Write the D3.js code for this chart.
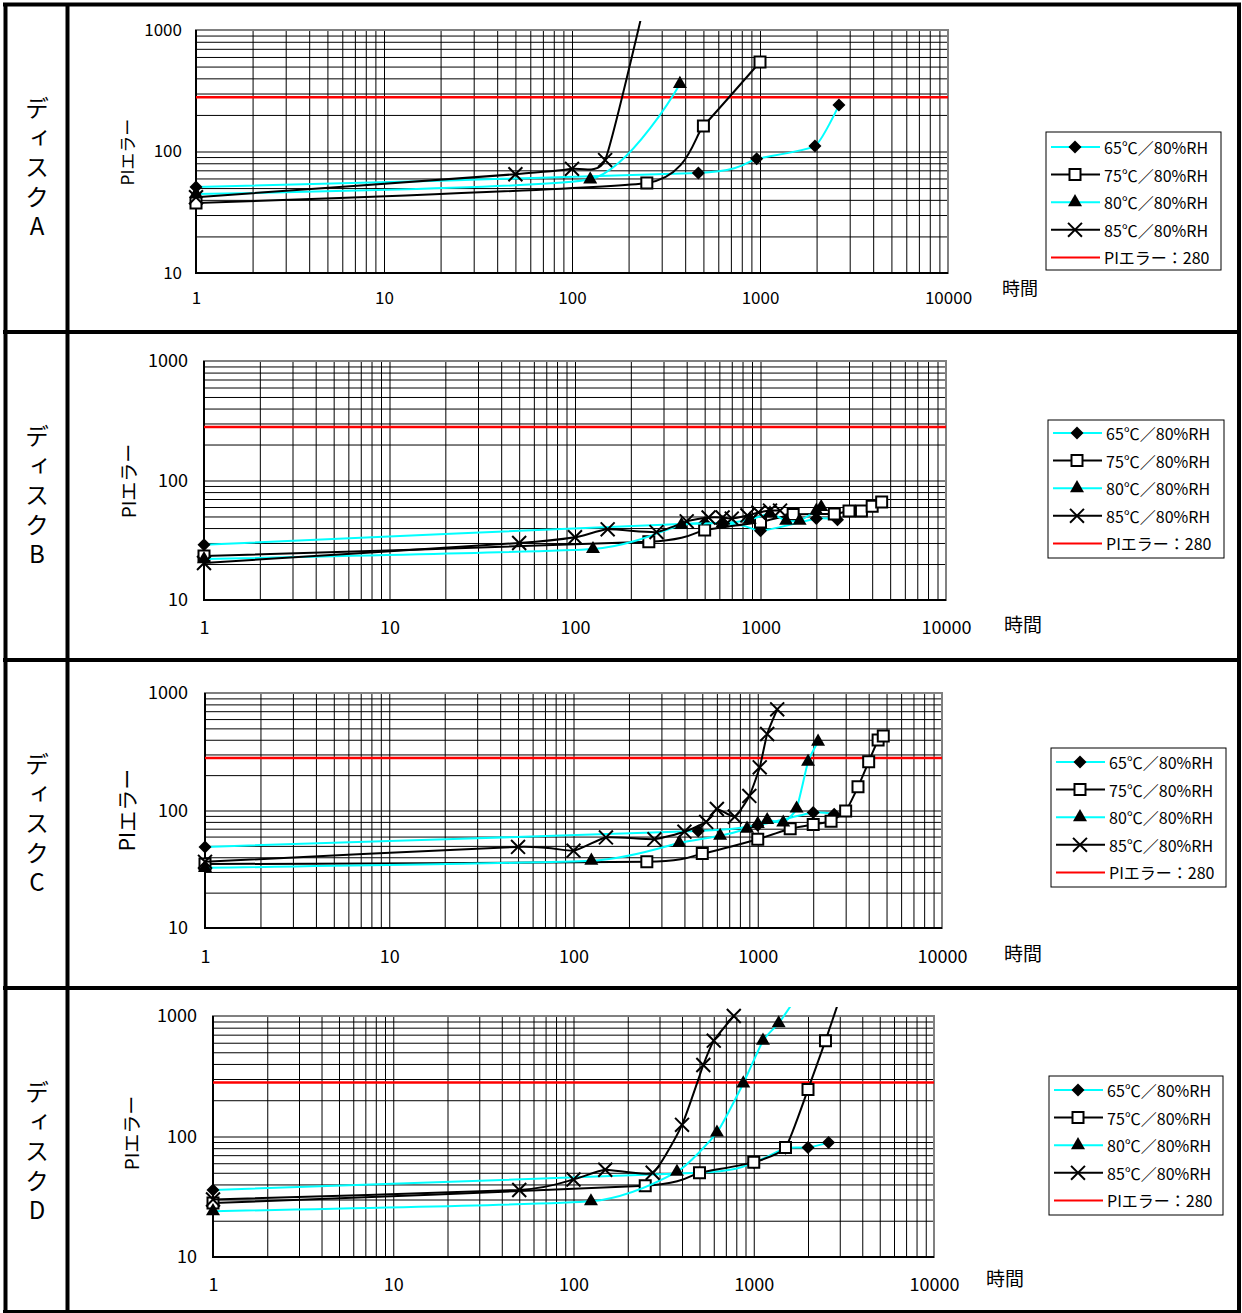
<!DOCTYPE html>
<html>
<head>
<meta charset="utf-8">
<script src="https://cdn.jsdelivr.net/npm/d3@7"></script>
<style>
  body { margin: 0; background: #fff; }
  svg text { font-family: "Noto Sans CJK JP", "Noto Sans", sans-serif; fill: #000; }
</style>
</head>
<body>
<svg id="chart" width="1242" height="1313"></svg>
<script>
// legend labels and axis labels
const seriesNames = ['65℃／80%RH', '75℃／80%RH', '80℃／80%RH', '85℃／80%RH'];
const limitName = 'PIエラー：280';
const limitValue = 280;
const xTickLabels = [1, 10, 100, 1000, 10000];
const yTickLabels = [10, 100, 1000];
const yTitle = 'PIエラー';
const xTitle = '時間';

// [hours, PI errors]
const discA65 = [[1, 51], [470, 66.5], [960, 87], [1960, 111], [2630, 241]];
const discA75 = [[1, 37.7], [250, 55], [500, 162], [1000, 545]];
const discA80 = [[1, 44.7], [125, 59], [375, 360]];
const discA85 = [[1, 42], [50, 65], [100, 72], [150, 85], [250, 2000]];

const discB65 = [[1, 29], [500, 44], [1000, 38], [2000, 48], [2600, 47]];
const discB75 = [[1, 23.3], [250, 30.7], [500, 38.5], [1000, 45], [1500, 52], [2500, 52.5], [3000, 55.5], [3500, 55.5], [4000, 61], [4500, 66]];
const discB80 = [[1, 22], [125, 26.7], [375, 42.5], [625, 44], [875, 47], [1125, 53], [1375, 46], [1625, 46], [2000, 56], [2125, 60]];
const discB85 = [[1, 20.4], [50, 30], [100, 33.5], [150, 39], [275, 37], [400, 45.5], [525, 49], [625, 49], [700, 48], [850, 51], [975, 54], [1125, 56], [1275, 56]];

const discC65 = [[1, 49], [475, 67], [1000, 75], [2000, 96], [2600, 93]];
const discC75 = [[1, 35], [250, 36.6], [500, 43], [1000, 57], [1500, 70], [2000, 76], [2500, 81], [3000, 99], [3500, 159], [4000, 260], [4500, 398], [4800, 430]];
const discC80 = [[1, 32.5], [125, 37.4], [375, 53], [625, 61], [875, 70], [1000, 77], [1125, 83], [1375, 79], [1625, 104], [1875, 260], [2125, 385]];
const discC85 = [[1, 36.6], [50, 49], [100, 45.5], [150, 59], [275, 57], [400, 66], [525, 80], [600, 103], [750, 88.5], [900, 133], [1025, 233], [1125, 448], [1275, 726]];

const discD65 = [[1, 36], [500, 50], [1000, 61], [1500, 80], [2000, 81], [2600, 89]];
const discD75 = [[1, 28], [250, 39], [500, 50], [1000, 61], [1500, 81], [2000, 246], [2500, 624], [3000, 1400]];
const discD80 = [[1, 24], [125, 29], [375, 51], [625, 108], [875, 276], [1125, 624], [1375, 870], [1625, 1250]];
const discD85 = [[1, 30], [50, 36], [100, 44], [150, 53], [275, 50], [400, 125], [525, 392], [600, 624], [775, 1000]];

// layout of each row of the table
const panels = [
  { name: 'ディスクA', series: [discA65, discA75, discA80, discA85], rowTop: 6,
    plot: { l: 196, r: 948, t: 30, b: 273 }, legend: { x: 1046, y: 132, w: 175, h: 138, first: 15 },
    time: { x: 1020, y: 287, size: 18 }, ytitle: { x: 126, y: 152, size: 17 }, tick: { size: 17, yPad: 14, xDy: 25 } },
  { name: 'ディスクB', series: [discB65, discB75, discB80, discB85], rowTop: 334,
    plot: { l: 204, r: 946, t: 361, b: 600 }, legend: { x: 1048, y: 420, w: 176, h: 138, first: 13 },
    time: { x: 1023, y: 623, size: 19 }, ytitle: { x: 127, y: 481, size: 19 }, tick: { size: 18, yPad: 16, xDy: 28 } },
  { name: 'ディスクC', series: [discC65, discC75, discC80, discC85], rowTop: 662,
    plot: { l: 205, r: 942, t: 693, b: 928 }, legend: { x: 1051, y: 748, w: 175, h: 139, first: 14 },
    time: { x: 1023, y: 952, size: 19 }, ytitle: { x: 126, y: 810, size: 21 }, tick: { size: 18, yPad: 17, xDy: 29 } },
  { name: 'ディスクD', series: [discD65, discD75, discD80, discD85], rowTop: 990,
    plot: { l: 213, r: 934, t: 1016, b: 1257 }, legend: { x: 1049, y: 1076, w: 174, h: 139, first: 14 },
    time: { x: 1005, y: 1277, size: 19 }, ytitle: { x: 130, y: 1133, size: 19 }, tick: { size: 18, yPad: 16, xDy: 28 } }
];

const styles = [
  { line: '#00ffff', symbol: d3.symbolDiamond2, size: 108, fill: '#000', stroke: 'none' },
  { line: '#000000', symbol: d3.symbolSquare, size: 121, fill: '#fff', stroke: '#000' },
  { line: '#00ffff', symbol: d3.symbolTriangle, size: 85, fill: '#000', stroke: 'none' },
  { line: '#000000', symbol: d3.symbolX, size: 128, fill: 'none', stroke: '#000' }
];

const svg = d3.select('#chart');

// table frame
const frame = svg.append('g').attr('stroke', '#000');
[[3, 4.5, 1241, 4.5, 4], [3, 1311.5, 1241, 1311.5, 3], [5.5, 3, 5.5, 1313, 4], [1239, 3, 1239, 1313, 4],
 [67.5, 3, 67.5, 1313, 4], [3, 332, 1241, 332, 4], [3, 660, 1241, 660, 4], [3, 988, 1241, 988, 4]]
  .forEach(([x1, y1, x2, y2, sw]) => {
    frame.append('line').attr('x1', x1).attr('y1', y1).attr('x2', x2).attr('y2', y2).attr('stroke-width', sw);
  });

panels.forEach((p, pi) => {
  const x = d3.scaleLog().domain([1, 10000]).range([p.plot.l, p.plot.r]);
  const y = d3.scaleLog().domain([10, 1000]).range([p.plot.b, p.plot.t]);
  const w = p.plot.r - p.plot.l;
  const h = p.plot.b - p.plot.t;
  const g = svg.append('g');

  // row label written top to bottom
  g.append('text')
    .attr('x', 37)
    .attr('y', p.rowTop + 164)
    .attr('font-size', 24)
    .attr('text-anchor', 'middle')
    .style('writing-mode', 'vertical-rl')
    .style('text-orientation', 'upright')
    .style('letter-spacing', '5.5px')
    .text(p.name);

  // grid lines
  g.append('g')
    .attr('transform', `translate(0,${p.plot.b})`)
    .call(d3.axisBottom(x).tickValues(x.ticks()).tickSize(-h).tickFormat(''))
    .call(a => a.select('.domain').remove())
    .selectAll('line').attr('stroke', '#000').attr('stroke-width', 1);
  g.append('g')
    .attr('transform', `translate(${p.plot.l},0)`)
    .call(d3.axisLeft(y).tickValues(y.ticks()).tickSize(-w).tickFormat(''))
    .call(a => a.select('.domain').remove())
    .selectAll('line').attr('stroke', '#000').attr('stroke-width', 1);

  // plot area border, axes in black
  g.append('rect')
    .attr('x', p.plot.l).attr('y', p.plot.t).attr('width', w).attr('height', h)
    .attr('fill', 'none').attr('stroke', '#808080').attr('stroke-width', 2);
  g.append('line').attr('x1', p.plot.l).attr('x2', p.plot.l).attr('y1', p.plot.t).attr('y2', p.plot.b + 1)
    .attr('stroke', '#000').attr('stroke-width', 2);
  g.append('line').attr('x1', p.plot.l).attr('x2', p.plot.r).attr('y1', p.plot.b).attr('y2', p.plot.b)
    .attr('stroke', '#000').attr('stroke-width', 2);

  // tick labels
  g.append('g')
    .attr('transform', `translate(${p.plot.l},0)`)
    .call(d3.axisLeft(y).tickValues(yTickLabels).tickFormat(d3.format('d')).tickSize(0).tickPadding(p.tick.yPad))
    .call(a => a.select('.domain').remove())
    .selectAll('text')
    .attr('font-size', p.tick.size)
    .attr('font-family', '"Liberation Sans", Arial, sans-serif');
  g.append('g')
    .attr('transform', `translate(0,${p.plot.b})`)
    .call(d3.axisBottom(x).tickValues(xTickLabels).tickFormat(d3.format('d')).tickSize(0))
    .call(a => a.select('.domain').remove())
    .selectAll('text')
    .attr('y', p.tick.xDy)
    .attr('dy', '0.35em')
    .attr('font-size', p.tick.size)
    .attr('font-family', '"Liberation Sans", Arial, sans-serif');

  // axis titles
  g.append('text')
    .attr('transform', `translate(${p.ytitle.x},${p.ytitle.y}) rotate(-90)`)
    .attr('text-anchor', 'middle')
    .attr('dominant-baseline', 'central')
    .attr('font-size', p.ytitle.size)
    .text(yTitle);
  g.append('text')
    .attr('x', p.time.x).attr('y', p.time.y)
    .attr('text-anchor', 'middle')
    .attr('dominant-baseline', 'central')
    .attr('font-size', p.time.size)
    .text(xTitle);

  // lines may run a little above the plot area, as in the original
  const clipId = 'clip' + pi;
  svg.append('clipPath').attr('id', clipId)
    .append('rect').attr('x', p.plot.l).attr('y', p.plot.t - 9).attr('width', w).attr('height', h + 9);

  // limit line
  g.append('line')
    .attr('x1', p.plot.l).attr('x2', p.plot.r)
    .attr('y1', y(limitValue)).attr('y2', y(limitValue))
    .attr('stroke', '#ff0000').attr('stroke-width', 2.5);

  // smoothed lines, a little tighter than plain Catmull-Rom to avoid loops
  const line = d3.line()
    .x(d => x(d[0]))
    .y(d => y(d[1]))
    .curve(d3.curveCardinal.tension(0.5));

  p.series.forEach((data, si) => {
    const st = styles[si];
    g.append('path')
      .datum(data)
      .attr('clip-path', `url(#${clipId})`)
      .attr('fill', 'none')
      .attr('stroke', st.line)
      .attr('stroke-width', 2)
      .attr('d', line);
    g.append('g')
      .selectAll('path')
      .data(data.filter(d => d[1] <= 1000))
      .enter()
      .append('path')
      .attr('transform', d => `translate(${x(d[0])},${y(d[1])})`)
      .attr('d', d3.symbol(st.symbol, st.size))
      .attr('fill', st.fill)
      .attr('stroke', st.stroke)
      .attr('stroke-width', 2);
  });

  // legend
  const lg = g.append('g').attr('transform', `translate(${p.legend.x},${p.legend.y})`);
  lg.append('rect')
    .attr('width', p.legend.w).attr('height', p.legend.h)
    .attr('fill', '#fff').attr('stroke', '#000').attr('stroke-width', 1);
  const entries = seriesNames.concat([limitName]);
  entries.forEach((name, i) => {
    const ey = p.legend.first + i * 27.6;
    const st = styles[i];
    lg.append('line')
      .attr('x1', 5).attr('x2', 54).attr('y1', ey).attr('y2', ey)
      .attr('stroke', st ? st.line : '#ff0000').attr('stroke-width', 2);
    if (st) {
      lg.append('path')
        .attr('transform', `translate(29,${ey})`)
        .attr('d', d3.symbol(st.symbol, st.size))
        .attr('fill', st.fill)
        .attr('stroke', st.stroke)
        .attr('stroke-width', 2);
    }
    lg.append('text')
      .attr('x', 58).attr('y', ey)
      .attr('dominant-baseline', 'central')
      .attr('font-size', 16)
      .text(name);
  });
});
</script>
</body>
</html>
